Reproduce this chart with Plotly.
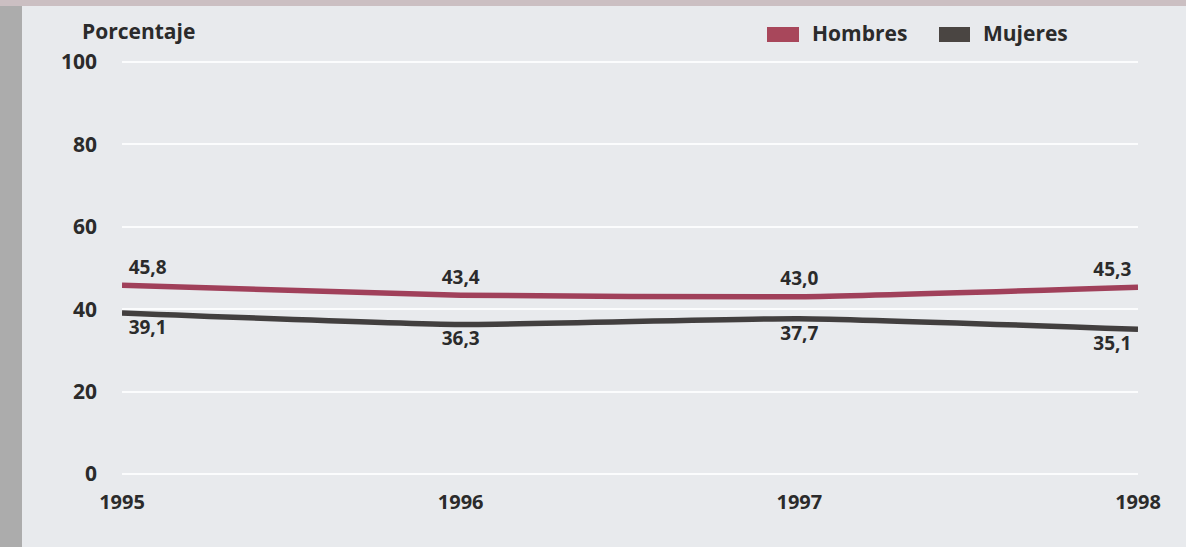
import plotly.graph_objects as go

# Porcentaje por sexo, 1995-1998
years = [1995, 1996, 1997, 1998]
hombres = [45.8, 43.4, 43.0, 45.3]
mujeres = [39.1, 36.3, 37.7, 35.1]
y_ticks = [0, 20, 40, 60, 80, 100]
x_tick_labels = ["1995", "1996", "1997", "1998"]

def fmt(v):
    return f"{v:.1f}".replace(".", ",")

W, H = 1186, 547
ML, MR, MT, MB = 122, 48, 58, 69
PW, PH = W - ML - MR, H - MT - MB

def px_x(p):
    return (p - ML) / PW

def px_y(p):
    return 1 - (p - MT) / PH

RED = "#a0405a"
DARK = "#423f3f"
TXT = "#2b2b2b"
FONT = "Open Sans"

fig = go.Figure()

# invisible markers set the gap between the value labels and the lines
hidden_marker = dict(size=9, color="rgba(0,0,0,0)")

fig.add_trace(go.Scatter(
    x=years, y=hombres, mode="lines+markers+text", name="Hombres",
    line=dict(color=RED, width=5.5, shape="spline", smoothing=0.5),
    marker=hidden_marker,
    text=[fmt(v) for v in hombres],
    textposition=["top right", "top center", "top center", "top left"],
    textfont=dict(family=FONT, size=19, color=TXT, weight=700),
    cliponaxis=False, showlegend=False,
))
fig.add_trace(go.Scatter(
    x=years, y=mujeres, mode="lines+markers+text", name="Mujeres",
    line=dict(color=DARK, width=5.5, shape="spline", smoothing=0.5),
    marker=hidden_marker,
    text=[fmt(v) for v in mujeres],
    textposition=["bottom right", "bottom center", "bottom center", "bottom left"],
    textfont=dict(family=FONT, size=19, color=TXT, weight=700),
    cliponaxis=False, showlegend=False,
))

shapes = [
    # left border strip and top edge of the page
    dict(type="rect", xref="paper", yref="paper", x0=px_x(0), x1=px_x(22),
         y0=px_y(H), y1=px_y(0), fillcolor="#acacac", line=dict(width=0), layer="below"),
    dict(type="rect", xref="paper", yref="paper", x0=px_x(0), x1=px_x(W),
         y0=px_y(6), y1=px_y(0), fillcolor="#cbbfc2", line=dict(width=0), layer="below"),
    # legend swatches
    dict(type="rect", xref="paper", yref="paper", x0=px_x(767), x1=px_x(799),
         y0=px_y(42), y1=px_y(27), fillcolor="#a8475b", line=dict(width=0)),
    dict(type="rect", xref="paper", yref="paper", x0=px_x(939), x1=px_x(970),
         y0=px_y(42), y1=px_y(27), fillcolor="#4a4542", line=dict(width=0)),
]

annotations = [
    dict(text="Porcentaje", xref="paper", yref="paper", x=px_x(80), y=px_y(31),
         xanchor="left", yanchor="middle", showarrow=False,
         font=dict(family=FONT, size=21, color=TXT, weight=700)),
    dict(text="Hombres", xref="paper", yref="paper", x=px_x(810), y=px_y(33),
         xanchor="left", yanchor="middle", showarrow=False,
         font=dict(family=FONT, size=21, color=TXT, weight=700)),
    dict(text="Mujeres", xref="paper", yref="paper", x=px_x(981), y=px_y(33),
         xanchor="left", yanchor="middle", showarrow=False,
         font=dict(family=FONT, size=21, color=TXT, weight=700)),
]

fig.update_layout(
    width=W, height=H,
    margin=dict(l=ML, r=MR, t=MT, b=MB),
    paper_bgcolor="#e8eaed", plot_bgcolor="rgba(0,0,0,0)",
    shapes=shapes, annotations=annotations,
    xaxis=dict(range=[1995, 1998], tickvals=years, ticktext=x_tick_labels,
               showgrid=False, zeroline=False, showline=False, ticks="",
               ticklabelstandoff=10,
               tickfont=dict(family=FONT, size=20, color=TXT, weight=700)),
    yaxis=dict(range=[-1, 101], tickvals=y_ticks, showgrid=True,
               gridcolor="#fbfcfd", gridwidth=2, zeroline=False, showline=False,
               ticks="", ticklabelstandoff=24,
               tickfont=dict(family=FONT, size=21, color=TXT, weight=700)),
)

fig.write_html("out.html")
